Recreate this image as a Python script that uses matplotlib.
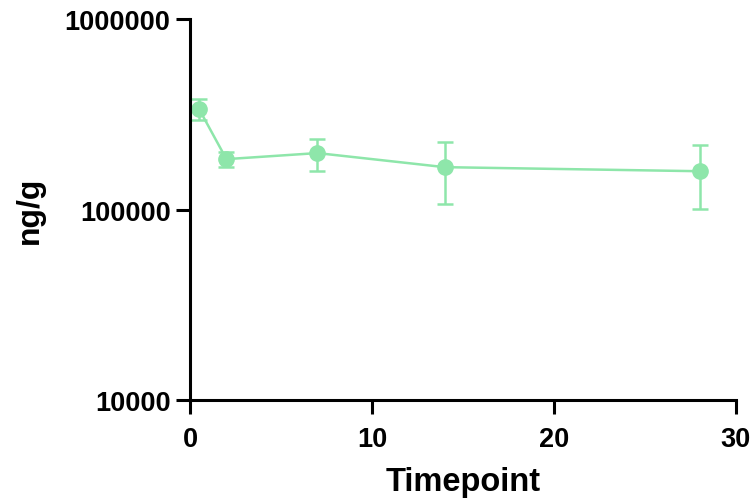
import matplotlib
matplotlib.use("Agg")
import matplotlib.pyplot as plt
from matplotlib.ticker import FixedLocator, FixedFormatter, NullLocator

timepoints = [0.5, 2, 7, 14, 28]
values = [337000, 184000, 198000, 167000, 159000]
errors = [42000, 17000, 38000, 60000, 58000]
yticks = [10000, 100000, 1000000]
ytick_labels = ["10000", "100000", "1000000"]
xticks = [0, 10, 20, 30]

color = "#8EE6AA"
plt.rcParams['font.family'] = ['Liberation Sans', 'DejaVu Sans']

fig = plt.figure(figsize=(7.54, 5.02), dpi=100)
ax = fig.add_axes([0.252, 0.201, 0.724, 0.759])
ax.errorbar(timepoints, values, yerr=errors, color=color, marker='o',
            markersize=11, linewidth=1.8, elinewidth=1.8, capsize=5.5, capthick=1.8)
ax.set_yscale('log')
ax.set_ylim(10000, 1000000)
ax.set_xlim(0, 30)
ax.yaxis.set_major_locator(FixedLocator(yticks))
ax.yaxis.set_major_formatter(FixedFormatter(ytick_labels))
ax.yaxis.set_minor_locator(NullLocator())
ax.set_xticks(xticks)
for s in ['top', 'right']:
    ax.spines[s].set_visible(False)
for s in ['left', 'bottom']:
    ax.spines[s].set_linewidth(2.2)
ax.tick_params(width=2.2, length=10, labelsize=19.5)
ax.tick_params(axis='y', pad=4)
ax.tick_params(axis='x', pad=9)
for lab in ax.get_xticklabels() + ax.get_yticklabels():
    lab.set_fontweight('bold')
ax.set_xlabel('Timepoint', fontsize=23.5, fontweight='bold', labelpad=10)
ax.set_ylabel('ng/g', fontsize=23, fontweight='bold', labelpad=14)
fig.savefig('out.png', dpi=100)
